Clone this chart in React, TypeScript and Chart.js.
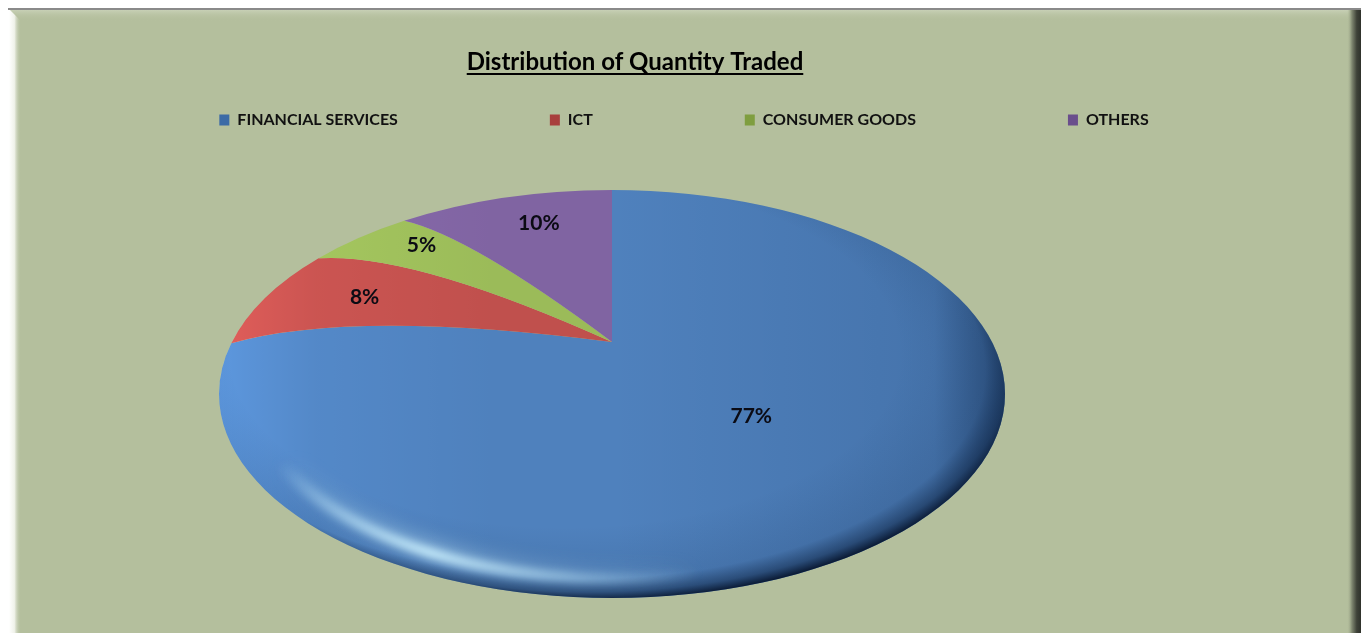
import React, { useEffect, useRef } from "react";
import { Chart, registerables, ArcElement } from "chart.js";

Chart.register(...registerables);

const categories = ["FINANCIAL SERVICES", "ICT", "CONSUMER GOODS", "OTHERS"];
const shares = [77, 8, 5, 10];
const sliceColors = ["#4F81BD", "#C0504D", "#9BBB59", "#8064A2"];
const legendColors = ["#3C6BA6", "#A83F3D", "#7F9E3F", "#6A4E8C"];
const chartTitle = "Distribution of Quantity Traded";

const W = 1368;
const H = 633;
const CX = 612;
const CY = 394;
const RX = 393;
const RY = 204;
const APEX_X = 612;
const APEX_Y = 342;
const WARP = 0.88;
const BULGE = 34;
const FONT = "Lato, 'Open Sans', sans-serif";
const labelNudge = [
  [-26, -21],
  [27, 4],
  [10, -3],
  [12, 0],
];

function warp(phi: number) {
  const p = Math.atan2(Math.sin(phi), Math.cos(phi));
  return 2 * Math.atan(WARP * Math.tan(p / 2));
}
function boundary(phi: number) {
  const w = warp(phi);
  const x = CX + RX * Math.sin(w);
  const y = CY - RY * Math.cos(w);
  const d = BULGE * Math.min(1, Math.abs(Math.sin(w)) * 1.3);
  const c = {
    x: APEX_X + 0.68 * (x - APEX_X),
    y: APEX_Y + 0.68 * (y - APEX_Y) - d,
  };
  return { w, x, y, c };
}

(ArcElement.prototype as any).draw = function (ctx: CanvasRenderingContext2D) {
  const { startAngle, endAngle } = this.getProps(["startAngle", "endAngle"]);
  const a = boundary(startAngle + Math.PI / 2);
  const b = boundary(endAngle + Math.PI / 2);
  ctx.save();
  ctx.beginPath();
  ctx.moveTo(APEX_X, APEX_Y);
  ctx.quadraticCurveTo(a.c.x, a.c.y, a.x, a.y);
  ctx.ellipse(CX, CY, RX, RY, 0, a.w - Math.PI / 2, b.w - Math.PI / 2, false);
  ctx.quadraticCurveTo(b.c.x, b.c.y, APEX_X, APEX_Y);
  ctx.closePath();
  ctx.fillStyle = this.options.backgroundColor;
  ctx.fill();
  ctx.restore();
};

const framePlugin = {
  id: "frame",
  beforeDraw(chart: any) {
    const ctx: CanvasRenderingContext2D = chart.ctx;
    const L = 9, T = 9, R = 1361;
    ctx.save();
    ctx.fillStyle = "#FFFFFF";
    ctx.fillRect(0, 0, W, H);
    ctx.fillStyle = "#B4BF9D";
    ctx.fillRect(L, T, R - L, H - T);
    let g = ctx.createLinearGradient(0, T, 0, T + 12);
    g.addColorStop(0, "#CBD3BA");
    g.addColorStop(1, "rgba(180,191,157,0)");
    ctx.fillStyle = g;
    ctx.fillRect(L, T, R - L, 12);
    g = ctx.createLinearGradient(L, 0, L + 12, 0);
    g.addColorStop(0, "#FFFFFF");
    g.addColorStop(0.45, "#F0F2EA");
    g.addColorStop(1, "rgba(180,191,157,0)");
    ctx.fillStyle = g;
    ctx.beginPath();
    ctx.moveTo(L, T);
    ctx.lineTo(L + 12, T + 12);
    ctx.lineTo(L + 12, H);
    ctx.lineTo(L, H);
    ctx.closePath();
    ctx.fill();
    g = ctx.createLinearGradient(R - 14, 0, R, 0);
    g.addColorStop(0, "rgba(180,191,157,0)");
    g.addColorStop(0.35, "#7F8770");
    g.addColorStop(0.7, "#3E4238");
    g.addColorStop(1, "#2F322B");
    ctx.fillStyle = g;
    ctx.fillRect(R - 14, T, 14, H - T);
    ctx.fillStyle = "#8A8A8A";
    ctx.fillRect(L - 1, T - 1, R - L + 1, 2);
    ctx.restore();

    const legend = chart.legend;
    const labels = chart.options.plugins.legend.labels;
    legend.top = 120 - labels.font.size / 2 - labels.padding;
    const tb = chart.titleBlock;
    const size = chart.options.plugins.title.font.size;
    tb.left = 335;
    tb.right = 935;
    tb.top = 62.5 - (size * 1.2) / 2;
  },
  afterDatasetsDraw(chart: any) {
    const ctx: CanvasRenderingContext2D = chart.ctx;
    ctx.save();
    ctx.beginPath();
    ctx.ellipse(CX, CY, RX, RY, 0, 0, Math.PI * 2);
    ctx.clip();

    ctx.save();
    ctx.globalCompositeOperation = "color-dodge";
    const dodge = ctx.createLinearGradient(CX - RX, 0, CX - RX * 0.3, 0);
    dodge.addColorStop(0, "#262626");
    dodge.addColorStop(0.35, "#0E0E0E");
    dodge.addColorStop(1, "#000000");
    ctx.fillStyle = dodge;
    ctx.fillRect(CX - RX, CY - RY, RX * 2, RY * 2);
    ctx.restore();
    const lin = ctx.createLinearGradient(CX, 0, CX + RX, 0);
    lin.addColorStop(0, "rgba(0,20,50,0)");
    lin.addColorStop(0.82, "rgba(0,20,50,0.12)");
    lin.addColorStop(1, "rgba(0,20,50,0.45)");
    ctx.fillStyle = lin;
    ctx.fillRect(CX, CY - RY, RX, RY * 2);

    ctx.translate(CX, CY);
    ctx.scale(RX, RY);

    const rim = ctx.createRadialGradient(-0.12, -0.2, 0.85, -0.05, -0.08, 1.094);
    rim.addColorStop(0, "rgba(10,30,60,0)");
    rim.addColorStop(0.7, "rgba(10,30,60,0.1)");
    rim.addColorStop(0.88, "rgba(10,30,60,0.5)");
    rim.addColorStop(1, "rgba(10,25,50,1)");
    ctx.fillStyle = rim;
    ctx.fillRect(-1, -1, 2, 2);

    const conic = (ctx as any).createConicGradient(0, 0, 0);
    conic.addColorStop(0.21, "rgba(200,240,255,0)");
    conic.addColorStop(0.335, "rgba(205,242,255,1)");
    conic.addColorStop(0.44, "rgba(200,240,255,0)");
    ctx.save();
    (ctx as any).filter = "blur(9px)";
    ctx.globalAlpha = 0.45;
    ctx.strokeStyle = conic;
    ctx.lineWidth = 0.07;
    ctx.beginPath();
    ctx.arc(0, 0, 0.89, 0, Math.PI * 2);
    ctx.stroke();
    (ctx as any).filter = "blur(4px)";
    ctx.globalAlpha = 1;
    ctx.lineWidth = 0.04;
    ctx.beginPath();
    ctx.arc(0, 0, 0.905, 0, Math.PI * 2);
    ctx.stroke();
    ctx.restore();
    ctx.restore();

    const meta = chart.getDatasetMeta(0);
    ctx.save();
    ctx.font = `bold 21px ${FONT}`;
    ctx.fillStyle = "#0B0B14";
    ctx.textAlign = "center";
    ctx.textBaseline = "middle";
    const total = shares.reduce((s, v) => s + v, 0);
    meta.data.forEach((arc: any, i: number) => {
      const { startAngle, endAngle } = arc.getProps(["startAngle", "endAngle"]);
      const b = boundary((startAngle + endAngle) / 2 + Math.PI / 2);
      const t = shares[i] > 50 ? 0.49 : 0.72;
      const x = (1 - t) * (1 - t) * APEX_X + 2 * t * (1 - t) * b.c.x + t * t * b.x;
      const y = (1 - t) * (1 - t) * APEX_Y + 2 * t * (1 - t) * b.c.y + t * t * b.y;
      ctx.fillText(`${Math.round((shares[i] / total) * 100)}%`, x + labelNudge[i][0], y + labelNudge[i][1]);
    });
    ctx.restore();
  },
  afterDraw(chart: any) {
    const ctx: CanvasRenderingContext2D = chart.ctx;
    const font = chart.options.plugins.title.font;
    ctx.save();
    ctx.font = `bold ${font.size}px ${FONT}`;
    const w = ctx.measureText(chartTitle).width;
    ctx.fillStyle = "#000000";
    ctx.fillRect(635 - w / 2, 73, w, 2);
    ctx.restore();
  },
};

export default function App() {
  const ref = useRef<HTMLCanvasElement>(null);
  useEffect(() => {
    const chart = new Chart(ref.current as HTMLCanvasElement, {
      type: "pie",
      data: {
        labels: categories,
        datasets: [{ data: shares, backgroundColor: sliceColors, borderWidth: 0, radius: RY }],
      },
      options: {
        animation: false,
        responsive: false,
        devicePixelRatio: 1,
        plugins: {
          tooltip: { enabled: false },
          title: {
            display: true,
            text: chartTitle,
            color: "#000000",
            padding: 0,
            font: { family: FONT, size: 24, weight: "bold", lineHeight: 1.2 },
          },
          legend: {
            display: true,
            position: "top",
            labels: {
              color: "#111111",
              padding: 152,
              boxWidth: 10,
              boxHeight: 11,
              font: { family: FONT, size: 16, weight: "bold" },
              generateLabels: () =>
                categories.map((c, i) => ({
                  text: c,
                  fillStyle: legendColors[i],
                  strokeStyle: legendColors[i],
                  lineWidth: 0,
                  index: i,
                  fontColor: "#111111",
                })),
            },
          },
        },
      } as any,
      plugins: [framePlugin as any],
    });
    return () => chart.destroy();
  }, []);
  return (
    <canvas
      ref={ref}
      width={W}
      height={H}
      style={{ position: "fixed", left: 0, top: 0, width: W, height: H, display: "block" }}
    />
  );
}
